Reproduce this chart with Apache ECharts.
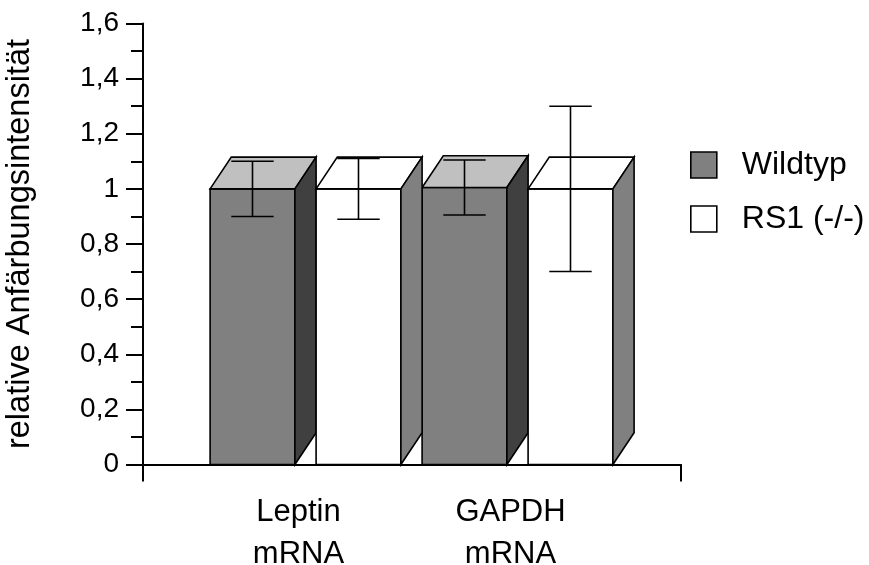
<!DOCTYPE html>
<html>
<head>
<meta charset="utf-8">
<script src="https://cdn.jsdelivr.net/npm/echarts@6/dist/echarts.min.js"></script>
<style>
  html, body { margin: 0; padding: 0; background: #fff; }
  #chart { width: 869px; height: 565px; }
</style>
</head>
<body>
<div id="chart"></div>
<script>
// Categories and measured values (mean and error) per genotype
const categories = ['Leptin\nmRNA', 'GAPDH\nmRNA'];
const seriesNames = ['Wildtyp', 'RS1 (-/-)'];
const wildtypValues = [1.0, 1.005];
const wildtypErrors = [0.1, 0.1];
const rs1Values = [1.0, 1.0];
const rs1Errors = [0.11, 0.3];
const yTicks = [0, 0.2, 0.4, 0.6, 0.8, 1.0, 1.2, 1.4, 1.6];

const FONT = '"Liberation Sans", Arial, sans-serif';
const TOP = 23.5, BOTTOM = 100.5;

// Face colours of the 3D boxes: front, top, side
const palettes = [
  { front: '#808080', top: '#c0c0c0', side: '#404040' },
  { front: '#ffffff', top: '#ffffff', side: '#808080' }
];

function makeBoxRenderer(slot) {
  const pal = palettes[slot];
  return function (params, api) {
    const cat = api.value(0);
    const val = api.value(1);
    const err = api.value(2);
    const bw = api.size([1, 0])[0];
    const front = bw * 0.4;
    const depth = bw * 0.1;
    const rise = depth * 1.5;
    const base = api.coord([cat, 0]);
    // the pair of boxes sits slightly right of the category label
    const x0 = base[0] - 0.417 * bw + slot * 0.5 * bw;
    const yBase = base[1];
    const yTop = api.coord([cat, val])[1];
    const yHi = api.coord([cat, val + err])[1];
    const yLo = api.coord([cat, val - err])[1];
    const cx = x0 + front / 2;
    const cap = front * 0.25;
    const edge = { stroke: '#000', lineWidth: 1.6, lineJoin: 'miter' };
    const line = { stroke: '#000', lineWidth: 1.6 };
    return {
      type: 'group',
      children: [
        { type: 'rect', shape: { x: x0, y: yTop, width: front, height: yBase - yTop },
          style: Object.assign({ fill: pal.front }, edge) },
        { type: 'polygon', shape: { points: [[x0, yTop], [x0 + depth, yTop - rise], [x0 + front + depth, yTop - rise], [x0 + front, yTop]] },
          style: Object.assign({ fill: pal.top }, edge) },
        { type: 'polygon', shape: { points: [[x0 + front, yBase], [x0 + front, yTop], [x0 + front + depth, yTop - rise], [x0 + front + depth, yBase - rise]] },
          style: Object.assign({ fill: pal.side }, edge) },
        { type: 'line', shape: { x1: cx, y1: yHi, x2: cx, y2: yLo }, style: line },
        { type: 'line', shape: { x1: cx - cap, y1: yHi, x2: cx + cap, y2: yHi }, style: line },
        { type: 'line', shape: { x1: cx - cap, y1: yLo, x2: cx + cap, y2: yLo }, style: line }
      ]
    };
  };
}

function seriesData(values, errors) {
  return values.map((v, i) => [i, v, errors[i]]);
}

const chart = echarts.init(document.getElementById('chart'), null, { renderer: 'canvas' });

chart.setOption({
  backgroundColor: '#fff',
  animation: false,
  grid: [
    { left: 143, right: 188, top: TOP, bottom: BOTTOM, outerBoundsMode: 'none', containLabel: false },
    { left: 192.5, right: 252.5, top: TOP, bottom: BOTTOM, outerBoundsMode: 'none', containLabel: false }
  ],
  xAxis: [
    {
      gridIndex: 0, type: 'value', min: 0, max: 1, interval: 1,
      axisLine: { show: true, lineStyle: { color: '#000', width: 2 } },
      axisTick: { show: true, length: 17, inside: false, lineStyle: { color: '#000', width: 2 } },
      axisLabel: { show: false },
      splitLine: { show: false }
    },
    {
      gridIndex: 1, type: 'category', data: categories, boundaryGap: true,
      axisLine: { show: false },
      axisTick: { show: false },
      axisLabel: {
        show: true, color: '#000', fontFamily: FONT, fontSize: 31,
        lineHeight: 42, margin: 27, interval: 0
      }
    }
  ],
  yAxis: [
    {
      gridIndex: 0, type: 'value', min: yTicks[0], max: yTicks[yTicks.length - 1], interval: 0.2,
      name: 'relative Anfärbungsintensität',
      nameLocation: 'middle', nameGap: 106, nameRotate: 90,
      nameTextStyle: { color: '#000', fontFamily: FONT, fontSize: 32.5 },
      axisLine: { show: true, lineStyle: { color: '#000', width: 2 } },
      axisTick: { show: true, length: 17, inside: false, lineStyle: { color: '#000', width: 2 } },
      minorTick: { show: true, splitNumber: 2, length: 12, lineStyle: { color: '#000', width: 2 } },
      axisLabel: {
        color: '#000', fontFamily: FONT, fontSize: 28, margin: 24,
        formatter: v => (Math.round(v * 10) / 10).toString().replace('.', ',')
      },
      splitLine: { show: false }
    },
    {
      gridIndex: 1, type: 'value', min: yTicks[0], max: yTicks[yTicks.length - 1],
      show: false, splitLine: { show: false }
    }
  ],
  legend: {
    orient: 'vertical', left: 690, top: 149, padding: 0,
    itemWidth: 26, itemHeight: 26, itemGap: 22,
    icon: 'rect',
    textStyle: { color: '#000', fontFamily: FONT, fontSize: 32, padding: [0, 0, 0, 20] },
    data: [
      { name: seriesNames[0], itemStyle: { color: palettes[0].front, borderColor: '#000', borderWidth: 1.6 } },
      { name: seriesNames[1], itemStyle: { color: palettes[1].front, borderColor: '#000', borderWidth: 1.6 } }
    ]
  },
  series: [
    {
      name: seriesNames[0], type: 'custom', xAxisIndex: 1, yAxisIndex: 1,
      itemStyle: { color: palettes[0].front, borderColor: '#000' },
      renderItem: makeBoxRenderer(0),
      data: seriesData(wildtypValues, wildtypErrors)
    },
    {
      name: seriesNames[1], type: 'custom', xAxisIndex: 1, yAxisIndex: 1,
      itemStyle: { color: palettes[1].front, borderColor: '#000' },
      renderItem: makeBoxRenderer(1),
      data: seriesData(rs1Values, rs1Errors)
    }
  ]
});
</script>
</body>
</html>
